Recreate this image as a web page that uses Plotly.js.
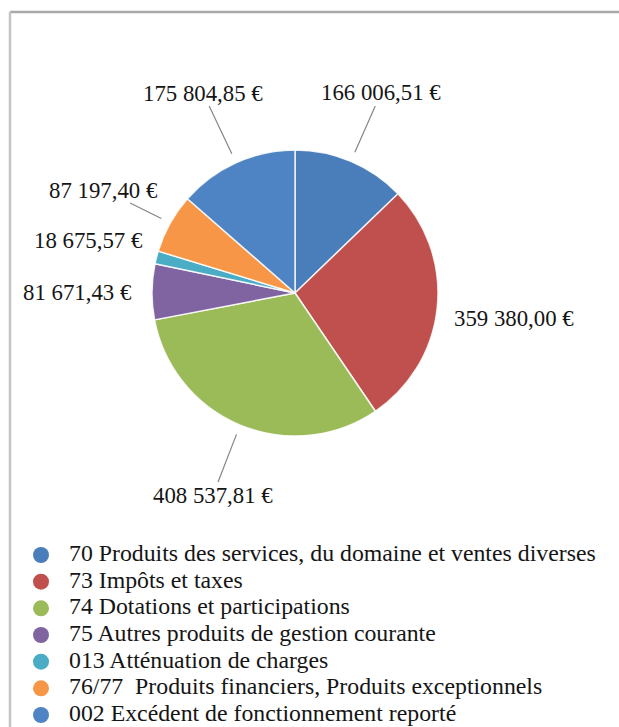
<!DOCTYPE html>
<html>
<head>
<meta charset="utf-8">
<script src="https://cdn.plot.ly/plotly-3.0.1.min.js"></script>
<style>html,body{margin:0;padding:0;background:#fff;}#chart{width:619px;height:727px;}</style>
</head>
<body>
<div id="chart"></div>
<script>
// ---- data ----
const categories = [
  "70 Produits des services, du domaine et ventes diverses",
  "73 Impôts et taxes",
  "74 Dotations et participations",
  "75 Autres produits de gestion courante",
  "013 Atténuation de charges",
  "76/77  Produits financiers, Produits exceptionnels",
  "002 Excédent de fonctionnement reporté"
];
const values = [166006.51, 359380.00, 408537.81, 81671.43, 18675.57, 87197.40, 175804.85];
const colors = ["#4A7EBB", "#C0504D", "#9BBB59", "#8064A2", "#4BACC6", "#F79646", "#4F84C4"];

// ---- layout constants ----
const W = 619, H = 727;
const CX = 295, CY = 293, R = 143;       // pie centre / radius in px
const LEAD_R = 153;                      // leader line end radius
// label text centres (px) and whether a leader line is drawn
const labelPos = [[381, 93], [514, 318], [213, 495], [77, 292], [88, 240], [104, 190], [203, 93]];
const labelLine = [true, false, true, false, false, true, true];
const FONT = "Liberation Serif";
const TXT = "#151515";

function fmtEuro(v) {
  const parts = v.toFixed(2).split('.');
  return parts[0].replace(/\B(?=(\d{3})+(?!\d))/g, ' ') + ',' + parts[1] + ' €';
}
const px2x = p => p / W;
const px2y = p => 1 - p / H;

const total = values.reduce((a, b) => a + b, 0);
let cum = 0;
const annotations = values.map((v, i) => {
  const mid = (cum + v / 2) / total; cum += v;
  const th = 2 * Math.PI * mid;
  const hx = CX + LEAD_R * Math.sin(th), hy = CY - LEAD_R * Math.cos(th);
  const [lx, ly] = labelPos[i];
  const base = {text: fmtEuro(v), font: {family: FONT, size: 22.8, color: TXT}, xref: "paper", yref: "paper"};
  if (labelLine[i]) {
    return Object.assign(base, {x: px2x(hx), y: px2y(hy), showarrow: true, arrowhead: 0, arrowwidth: 1.2,
      arrowcolor: "#858585", ax: lx - hx, ay: ly - hy, standoff: 0, borderpad: 0});
  }
  return Object.assign(base, {x: px2x(lx), y: px2y(ly), xanchor: "center", yanchor: "middle", showarrow: false});
});

const pie = {
  type: "pie", values: values, labels: categories, sort: false, direction: "clockwise", rotation: 0,
  marker: {colors: colors, line: {color: "rgba(255,255,255,0.85)", width: 1.5}},
  textinfo: "none", hoverinfo: "label+value", showlegend: false,
  domain: {x: [px2x(CX - R), px2x(CX + R)], y: [px2y(CY + R), px2y(CY - R)]}
};

// legend drawn as a marker column and a text column on hidden axes
const idx = categories.map((c, i) => i);
const legendDots = {
  type: "scatter", mode: "markers", x: idx.map(() => 0), y: idx,
  marker: {color: colors, size: 16}, hoverinfo: "skip", showlegend: false, cliponaxis: false
};
const legendText = {
  type: "scatter", mode: "text", x: idx.map(() => 1), y: idx, text: categories,
  textposition: "middle right", textfont: {family: FONT, size: 23.8, color: TXT},
  hoverinfo: "skip", showlegend: false, cliponaxis: false
};

const ROW0 = 555, ROWH = 26.67, DOTX = 41, TEXTX = 69;
const unitX = TEXTX - DOTX;
const layout = {
  width: W, height: H, margin: {l: 0, r: 0, t: 0, b: 0},
  font: {family: FONT, size: 22, color: TXT},
  paper_bgcolor: "#fff", plot_bgcolor: "rgba(0,0,0,0)",
  xaxis: {visible: false, range: [-DOTX / unitX, (W - DOTX) / unitX], fixedrange: true},
  yaxis: {visible: false, range: [(H - ROW0) / ROWH, -ROW0 / ROWH], fixedrange: true},
  annotations: annotations,
  shapes: [
    {type: "line", xref: "paper", yref: "paper", x0: px2x(10), x1: 1, y0: px2y(12), y1: px2y(12), line: {color: "#a9a9a9", width: 2.5}},
    {type: "line", xref: "paper", yref: "paper", x0: px2x(10), x1: px2x(10), y0: px2y(12), y1: 0, line: {color: "#c4c4c4", width: 2.5}}
  ]
};

Plotly.newPlot("chart", [pie, legendDots, legendText], layout, {displayModeBar: false});
</script>
</body>
</html>
